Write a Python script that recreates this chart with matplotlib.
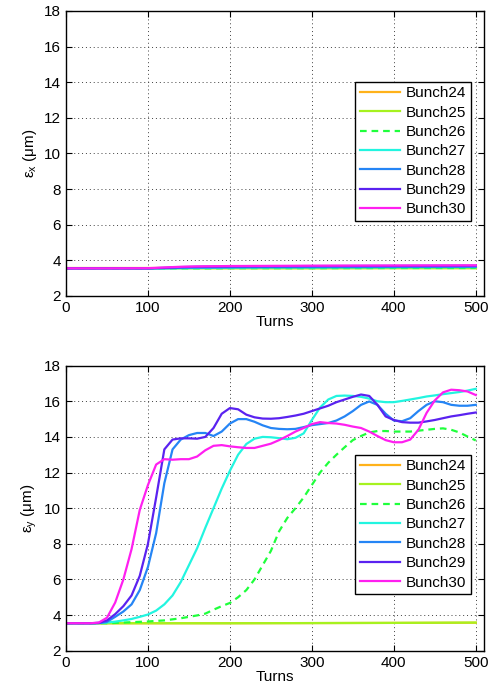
import numpy as np
import matplotlib
matplotlib.use('Agg')
import matplotlib.pyplot as plt

plt.rcParams['font.family'] = ['Liberation Sans', 'DejaVu Sans']
plt.rcParams['mathtext.default'] = 'regular'

# ---- data ----
labels = ['Bunch24', 'Bunch25', 'Bunch26', 'Bunch27', 'Bunch28', 'Bunch29', 'Bunch30']
colors = ['#ffb21a', '#a6f21f', '#1fff3c', '#22f5e0', '#2585f5', '#5a22f0', '#ff1ff0']
styles = ['-', '-', '--', '-', '-', '-', '-']

# top panel (horizontal emittance), coarse samples
turns_x = [0, 50, 100, 120, 140, 160, 180, 200, 250, 300, 400, 500]
ex_b24 = [3.55, 3.55, 3.55, 3.55, 3.55, 3.55, 3.55, 3.55, 3.55, 3.55, 3.55, 3.55]
ex_b25 = [3.55, 3.55, 3.55, 3.55, 3.55, 3.55, 3.55, 3.55, 3.55, 3.55, 3.56, 3.56]
ex_b26 = [3.55, 3.55, 3.55, 3.55, 3.55, 3.55, 3.55, 3.56, 3.56, 3.56, 3.57, 3.57]
ex_b27 = [3.55, 3.55, 3.55, 3.55, 3.56, 3.57, 3.58, 3.59, 3.60, 3.60, 3.61, 3.62]
ex_b28 = [3.55, 3.55, 3.55, 3.56, 3.58, 3.59, 3.60, 3.61, 3.62, 3.62, 3.63, 3.64]
ex_b29 = [3.55, 3.55, 3.55, 3.58, 3.62, 3.64, 3.65, 3.66, 3.67, 3.68, 3.69, 3.70]
ex_b30 = [3.55, 3.55, 3.56, 3.60, 3.64, 3.66, 3.67, 3.68, 3.69, 3.70, 3.71, 3.72]

# bottom panel (vertical emittance)
turns_flat = [0, 100, 200, 300, 400, 500]
ey_b24 = [3.54, 3.54, 3.54, 3.55, 3.56, 3.57]
ey_b25 = [3.54, 3.54, 3.54, 3.55, 3.56, 3.58]

turns_y = list(range(0, 510, 10))
ey_b26 = [3.54, 3.54, 3.54, 3.54, 3.54, 3.54, 3.56, 3.58, 3.60, 3.62,
          3.64, 3.67, 3.70, 3.76, 3.82, 3.90, 3.98, 4.08, 4.30, 4.50,
          4.68, 5.00, 5.40, 6.00, 6.80, 7.60, 8.70, 9.45, 10.0, 10.6,
          11.3, 12.0, 12.55, 13.0, 13.42, 13.82, 14.05, 14.25, 14.33, 14.33,
          14.30, 14.30, 14.30, 14.35, 14.40, 14.45, 14.48, 14.40, 14.25, 14.02,
          13.80]
ey_b27 = [3.54, 3.54, 3.54, 3.54, 3.56, 3.58, 3.63, 3.70, 3.78, 3.90,
          4.03, 4.25, 4.60, 5.10, 5.85, 6.80, 7.75, 8.90, 10.0, 11.1,
          12.1, 13.0, 13.6, 13.9, 14.0, 13.98, 13.93, 13.87, 13.95, 14.2,
          14.95, 15.65, 16.1, 16.3, 16.32, 16.3, 16.25, 16.15, 16.0, 15.95,
          15.95, 16.02, 16.1, 16.18, 16.27, 16.33, 16.4, 16.46, 16.52, 16.6,
          16.7]
ey_b28 = [3.54, 3.54, 3.54, 3.54, 3.54, 3.62, 3.90, 4.20, 4.60, 5.40,
          6.70, 8.60, 11.4, 13.3, 13.85, 14.1, 14.22, 14.22, 14.05, 14.3,
          14.75, 15.0, 15.0, 14.85, 14.65, 14.5, 14.45, 14.43, 14.45, 14.55,
          14.66, 14.72, 14.78, 14.92, 15.15, 15.45, 15.8, 15.99, 15.8, 15.3,
          14.92, 14.88, 15.05, 15.45, 15.8, 16.0, 15.95, 15.8, 15.75, 15.75,
          15.8]
ey_b29 = [3.54, 3.54, 3.54, 3.54, 3.56, 3.70, 4.05, 4.50, 5.10, 6.20,
          8.00, 10.6, 13.3, 13.85, 13.92, 13.92, 13.9, 14.0, 14.5, 15.3,
          15.62, 15.55, 15.25, 15.1, 15.03, 15.02, 15.05, 15.12, 15.2, 15.3,
          15.45, 15.6, 15.75, 15.95, 16.1, 16.25, 16.38, 16.3, 15.8, 15.15,
          14.95, 14.83, 14.8, 14.8, 14.87, 14.95, 15.05, 15.15, 15.22, 15.3,
          15.37]
ey_b30 = [3.54, 3.54, 3.54, 3.54, 3.58, 3.85, 4.70, 6.00, 7.70, 9.90,
          11.3, 12.45, 12.75, 12.72, 12.75, 12.75, 12.9, 13.25, 13.5, 13.54,
          13.47, 13.42, 13.38, 13.38, 13.5, 13.62, 13.82, 14.05, 14.3, 14.5,
          14.72, 14.83, 14.78, 14.75, 14.68, 14.58, 14.5, 14.3, 14.05, 13.82,
          13.7, 13.7, 13.85, 14.4, 15.35, 16.05, 16.5, 16.65, 16.62, 16.55,
          16.35]

top_series = [ex_b24, ex_b25, ex_b26, ex_b27, ex_b28, ex_b29, ex_b30]
top_turns = [turns_x] * 7
bot_series = [ey_b24, ey_b25, ey_b26, ey_b27, ey_b28, ey_b29, ey_b30]
bot_turns = [turns_flat, turns_flat] + [turns_y] * 5

# ---- plot ----
fontsize = 11
fig = plt.figure(figsize=(4.91, 6.92), dpi=100)
ax1 = fig.add_axes([0.1344, 0.5723, 0.8513, 0.4119])
ax2 = fig.add_axes([0.1344, 0.0597, 0.8513, 0.4119])

for ax, tt, ss, ylab, legtop in [
        (ax1, top_turns, top_series, r'ε$_x$ (μm)', 0.752),
        (ax2, bot_turns, bot_series, r'ε$_y$ (μm)', 0.687)]:
    for t, s, c, ls, lab in zip(tt, ss, colors, styles, labels):
        line, = ax.plot(t, s, color=c, linewidth=1.6, label=lab,
                        solid_joinstyle='round')
        if ls == '--':
            line.set_dashes((3, 2.2))
    ax.set_xlim(0, 510)
    ax.set_ylim(2, 18)
    ax.set_xticks(np.arange(0, 501, 100))
    ax.set_yticks(np.arange(2, 19, 2))
    ax.grid(True, linestyle=(0, (1, 3)), color='0.25', linewidth=0.7)
    ax.tick_params(direction='in', top=True, right=True, length=4,
                   labelsize=fontsize, width=0.8)
    for sp in ax.spines.values():
        sp.set_linewidth(1.0)
    ax.set_xlabel('Turns', fontsize=fontsize, labelpad=0)
    ax.set_ylabel(ylab, fontsize=fontsize)
    leg = ax.legend(loc='upper right', bbox_to_anchor=(0.968, legtop),
                    fontsize=fontsize, fancybox=False, framealpha=1,
                    edgecolor='k', labelspacing=0.35, borderpad=0.3,
                    handlelength=2.6, handletextpad=0.4, borderaxespad=0)
    leg.get_frame().set_linewidth(1.0)

fig.savefig('out.png', dpi=100)
